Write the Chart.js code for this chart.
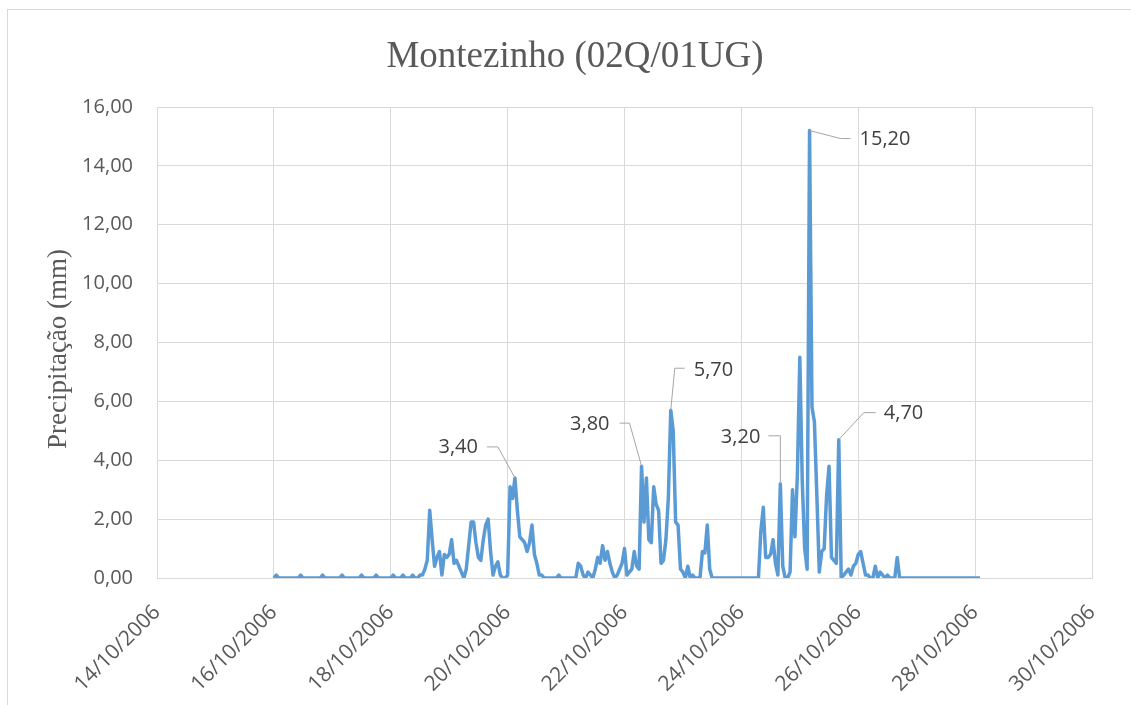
<!DOCTYPE html>
<html>
<head>
<meta charset="utf-8">
<script src="https://cdn.jsdelivr.net/npm/chart.js@4.4.0/dist/chart.umd.min.js"></script>
<style>
  html, body { margin: 0; padding: 0; background: #fff; }
  #wrap { width: 1131px; height: 705px; position: relative; }
</style>
</head>
<body>
<div id="wrap"><canvas id="chart" width="1131" height="705"></canvas></div>
<script>
// ---------- DATA (hourly rain, mm, from 16/10/2006 00:00) ----------
const rain16 = [0,0.1,0,0,0,0,0,0,0,0,0,0.1,0,0,0,0,0,0,0,0,0.1,0,0,0];
const rain17 = [0,0,0,0,0.1,0,0,0,0,0,0,0,0.1,0,0,0,0,0,0.1,0,0,0,0,0];
const rain18 = [0,0.1,0,0,0,0.1,0,0,0,0.1,0,0,0.1,0.1,0.3,0.6,2.3,1.3,0.4,0.7,0.9,0.1,0.8,0.7];
const rain19 = [0.8,1.3,0.5,0.6,0.4,0.2,0,0.3,1.1,1.9,1.9,1.2,0.7,0.6,1.3,1.8,2.0,0.9,0.1,0.4,0.55,0.1,0,0];
const rain20 = [0.1,3.1,2.7,3.4,2.3,1.4,1.3,1.2,0.9,1.2,1.8,0.8,0.5,0.1,0.1,0,0,0,0,0,0,0.1,0,0];
const rain21 = [0,0,0,0,0,0.5,0.4,0.1,0,0.2,0.1,0,0.3,0.7,0.5,1.1,0.6,0.9,0.5,0.2,0,0.1,0.3,0.5];
const rain22 = [1.0,0.1,0.2,0.3,0.9,0.4,0.3,3.8,1.9,3.4,1.3,1.2,3.1,2.5,2.3,0.5,0.6,1.3,2.7,5.7,5.0,1.9,1.8,0.3];
const rain23 = [0.2,0,0.4,0,0.1,0,0,0,0.9,0.85,1.8,0.3,0,0,0,0,0,0,0,0,0,0,0,0];
const rain24 = [0,0,0,0,0,0,0,0,1.6,2.4,0.7,0.7,0.8,1.3,0.5,0.1,3.2,0.4,0,0,0.2,3.0,1.4,3.5];
const rain25 = [7.5,3.3,1.0,0.3,15.2,5.8,5.3,2.8,0.2,0.9,1.0,2.8,3.8,0.7,0.6,0.5,4.7,0,0.1,0.2,0.3,0.1,0.4,0.5];
const rain26 = [0.8,0.9,0.5,0.1,0.1,0,0,0.4,0,0.2,0.1,0,0.1,0,0,0,0.7,0,0,0,0,0,0,0];
const rain27 = [0,0,0,0,0,0,0,0,0,0,0,0,0,0,0,0,0,0,0,0,0,0,0,0];
const rain28 = [0,0,0];

const dayArrays = [rain16, rain17, rain18, rain19, rain20, rain21, rain22, rain23, rain24, rain25, rain26, rain27, rain28];
const firstDay = 16;   // day of month of the first array
const axisStartDay = 14;
const axisEndDay = 30;
const yTicks = [0, 2, 4, 6, 8, 10, 12, 14, 16];

// hours (from 16/10 00:00) of the labelled peaks
const labelledHours = [99, 151, 163, 208, 220, 232];

// ---------- BUILD POINTS ----------
const points = [];
dayArrays.forEach((arr, d) => {
  arr.forEach((v, h) => {
    points.push({ x: (firstDay - axisStartDay) + d + h / 24, y: v });
  });
});

function fmt(v) {
  return v.toFixed(2).replace(".", ",");
}

const TICK_FONT = "'Open Sans', sans-serif";

// leader-line offsets for each label: elbow, end, text offset, align
const labelLayout = [
  { elbow: [-17, -31], end: [-28, -31], tx: -37, ty: -31, align: "right" },
  { elbow: [-12, -43], end: [-22, -43], tx: -32, ty: -42, align: "right" },
  { elbow: [4, -42], end: [14, -42], tx: 23, ty: -40, align: "left" },
  { elbow: [0, -48], end: [-12, -48], tx: -20, ty: -47, align: "right" },
  { elbow: [31, 8], end: [41, 8], tx: 50, ty: 9, align: "left" },
  { elbow: [25, -27], end: [37, -27], tx: 45, ty: -26, align: "left" },
];

// ---------- PLUGIN: frame, titles, data labels ----------
const decorPlugin = {
  id: "decor",
  beforeDraw(chart) {
    const ctx = chart.ctx;
    ctx.save();
    ctx.fillStyle = "#fff";
    ctx.fillRect(0, 0, chart.width, chart.height);
    ctx.strokeStyle = "#d9d9d9";
    ctx.lineWidth = 1;
    ctx.strokeRect(7.5, 9.5, 1300, 900);
    ctx.restore();
  },
  afterDraw(chart) {
    const ctx = chart.ctx;
    ctx.save();
    ctx.fillStyle = "#595959";
    ctx.font = "37px 'Liberation Serif', serif";
    ctx.textAlign = "center";
    ctx.textBaseline = "middle";
    ctx.fillText("Montezinho (02Q/01UG)", 575, 57);

    ctx.translate(59, 349);
    ctx.rotate(-Math.PI / 2);
    ctx.font = "27px 'Liberation Serif', serif";
    ctx.fillText("Precipitação (mm)", 0, 0);
    ctx.restore();
  },
  afterDatasetsDraw(chart) {
    const ctx = chart.ctx;
    const meta = chart.getDatasetMeta(0);
    ctx.save();
    labelledHours.forEach((h, i) => {
      const el = meta.data[h];
      const L = labelLayout[i];
      const px = el.x, py = el.y;
      ctx.strokeStyle = "#a6a6a6";
      ctx.lineWidth = 1;
      ctx.beginPath();
      ctx.moveTo(px, py);
      ctx.lineTo(px + L.elbow[0], py + L.elbow[1]);
      ctx.lineTo(px + L.end[0], py + L.end[1]);
      ctx.stroke();
      ctx.fillStyle = "#404040";
      ctx.font = "20px " + TICK_FONT;
      ctx.textAlign = L.align;
      ctx.textBaseline = "middle";
      ctx.fillText(fmt(points[h].y), px + L.tx, py + L.ty);
    });
    ctx.restore();
  },
};

// ---------- CHART ----------
new Chart(document.getElementById("chart"), {
  type: "line",
  data: {
    datasets: [
      {
        label: "Precipitação",
        data: points,
        borderColor: "#5b9bd5",
        borderWidth: 3.5,
        pointRadius: 0,
        tension: 0,
        fill: false,
        borderJoinStyle: "round",
      },
    ],
  },
  options: {
    responsive: false,
    animation: false,
    layout: { padding: { top: 107, right: 39, left: 0, bottom: 0 } },
    plugins: {
      legend: { display: false },
      title: { display: false },
      tooltip: { enabled: false },
    },
    scales: {
      x: {
        type: "linear",
        min: 0,
        max: axisEndDay - axisStartDay,
        afterFit: (s) => {
          s.height = 127;
          s.paddingLeft = 0;
          s.paddingRight = 0;
        },
        afterBuildTicks: (s) => {
          const t = [];
          for (let v = 0; v <= axisEndDay - axisStartDay; v += 2) t.push({ value: v });
          s.ticks = t;
        },
        grid: { color: "#d9d9d9", lineWidth: 1, drawTicks: false },
        border: { color: "#d9d9d9" },
        ticks: {
          autoSkip: false,
          minRotation: 45,
          maxRotation: 45,
          padding: 22,
          color: "#595959",
          font: { family: TICK_FONT, size: 21 },
          callback: (v) => {
            const d = axisStartDay + v;
            return (d < 10 ? "0" + d : d) + "/10/2006";
          },
        },
      },
      y: {
        min: 0,
        max: 16,
        afterFit: (s) => { s.width = 157; },
        afterBuildTicks: (s) => { s.ticks = yTicks.map((v) => ({ value: v })); },
        grid: { color: "#d9d9d9", lineWidth: 1, drawTicks: false },
        border: { display: false },
        ticks: {
          padding: 24,
          color: "#595959",
          font: { family: TICK_FONT, size: 20 },
          callback: (v) => fmt(v),
        },
      },
    },
  },
  plugins: [decorPlugin],
});
</script>
</body>
</html>
